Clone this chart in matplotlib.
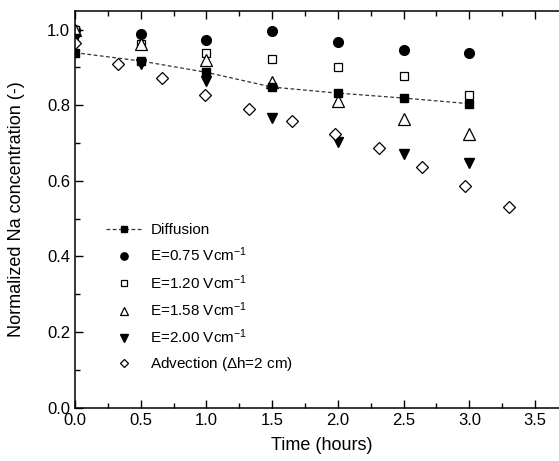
import numpy as np
import matplotlib
matplotlib.use("Agg")
import matplotlib.pyplot as plt
from matplotlib.ticker import MultipleLocator

plt.rcParams['font.family'] = ['Liberation Sans', 'DejaVu Sans']
plt.rcParams['mathtext.fontset'] = 'custom'
plt.rcParams['mathtext.rm'] = 'Liberation Sans'
plt.rcParams['mathtext.it'] = 'Liberation Sans:italic'

# time points (hours)
t_e = [0.0, 0.5, 1.0, 1.5, 2.0, 2.5, 3.0]
t_adv = [0.0, 0.33, 0.66, 0.99, 1.32, 1.65, 1.98, 2.31, 2.64, 2.97, 3.30]

diffusion = [0.939, 0.917, 0.887, 0.848, 0.832, 0.819, 0.804]
e075 = [1.0, 0.988, 0.972, 0.995, 0.967, 0.945, 0.937]
e120 = [1.0, 0.963, 0.937, 0.923, 0.900, 0.877, 0.826]
e158 = [1.0, 0.961, 0.919, 0.861, 0.811, 0.764, 0.725]
e200 = [0.975, 0.910, 0.863, 0.766, 0.703, 0.671, 0.647]
advection = [0.965, 0.910, 0.872, 0.828, 0.790, 0.758, 0.723, 0.687, 0.637, 0.587, 0.530]

fig = plt.figure(figsize=(5.59, 4.61), dpi=100)
ax = fig.add_axes([75 / 559, 53.3 / 461, 492.9 / 559, 397 / 461])

ms = 7
ax.plot(t_e, e075, 'o', color='black', ms=ms, label='E=0.75 Vcm$^{-1}$')
ax.plot(t_e, e120, 's', mfc='white', mec='black', ms=ms - 1, mew=0.9, label='E=1.20 Vcm$^{-1}$')
ax.plot(t_e, e158, '^', mfc='white', mec='black', ms=ms + 1, mew=0.9, label='E=1.58 Vcm$^{-1}$')
ax.plot(t_e, e200, 'v', color='black', ms=ms + 0.5, label='E=2.00 Vcm$^{-1}$')
ax.plot(t_adv, advection, 'D', mfc='white', mec='black', ms=ms - 1, mew=0.9,
        label='Advection ($\\Delta$h=2 cm)')
ax.plot(t_e, diffusion, 's', ls=(0, (3, 2)), color='#333333', mfc='black', mec='black',
        ms=ms - 1, lw=0.9, label='Diffusion')

ax.set_xlim(0, 3.75)
ax.set_ylim(0, 1.05)
ax.xaxis.set_major_locator(MultipleLocator(0.5))
ax.xaxis.set_minor_locator(MultipleLocator(0.25))
ax.yaxis.set_major_locator(MultipleLocator(0.2))
ax.yaxis.set_minor_locator(MultipleLocator(0.1))
ax.xaxis.set_major_formatter(matplotlib.ticker.FormatStrFormatter('%.1f'))
ax.yaxis.set_major_formatter(matplotlib.ticker.FormatStrFormatter('%.1f'))
ax.tick_params(which='both', direction='in', top=True, right=False, labelsize=12, width=1)
ax.tick_params(which='major', length=6)
ax.tick_params(which='minor', length=3.5)
for s in ax.spines.values():
    s.set_linewidth(1.1)

ax.set_xlabel('Time (hours)', fontsize=13, labelpad=7)
ax.set_ylabel('Normalized Na concentration (-)', fontsize=13, labelpad=16)

handles, labels = ax.get_legend_handles_labels()
order = [5, 0, 1, 2, 3, 4]
ax.legend([handles[i] for i in order], [labels[i] for i in order],
          loc='upper left', bbox_to_anchor=(0.035, 0.50), frameon=False,
          fontsize=11, handlelength=2.4, labelspacing=0.57, handletextpad=0.5,
          markerscale=0.75)

fig.savefig('out.png', dpi=100)
